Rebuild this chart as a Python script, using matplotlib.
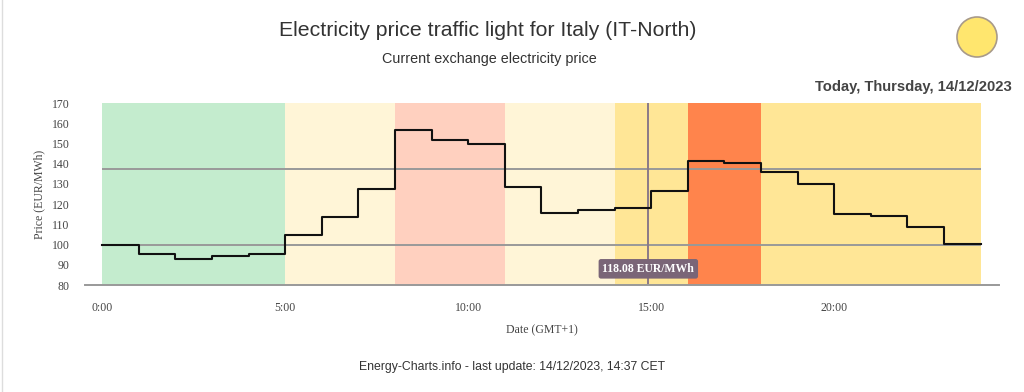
import numpy as np
import matplotlib.pyplot as plt
from matplotlib.patches import Ellipse
from matplotlib.lines import Line2D

# hourly exchange prices (EUR/MWh), hour 0..23
hours = np.arange(0, 24)
prices = [100.0, 95.2, 92.7, 94.2, 95.2, 104.7, 113.6, 127.4, 156.6, 151.7, 149.7, 128.6,
          115.7, 116.9, 118.08, 126.3, 141.3, 140.5, 135.7, 129.9, 114.9, 114.2, 108.8, 100.3]

# traffic light colour bands (start hour, end hour, colour)
band_starts = [0, 5, 8, 11, 14, 16, 18]
band_ends = [5, 8, 11, 14, 16, 18, 24]
band_colors = ['#c4ecce', '#fff5d7', '#ffd0bf', '#fff5d7', '#ffe696', '#ff844c', '#ffe696']

ref_levels = [100.0, 137.6]
cursor_hour = 14.92
cursor_text = '118.08 EUR/MWh'
xtick_pos = [0, 5, 10, 15, 20]
xtick_labels = ['0:00', '5:00', '10:00', '15:00', '20:00']
yticks = np.arange(80, 171, 10)

serif = 'Liberation Serif'
sans = 'Liberation Sans'

fig = plt.figure(figsize=(10.24, 3.92), dpi=100)
ax = fig.add_axes([85 / 1024, 1 - 285 / 392, (999 - 85) / 1024, (285 - 103) / 392])

for s, e, c in zip(band_starts, band_ends, band_colors):
    ax.axvspan(s, e, color=c, lw=0, zorder=0)

for lv in ref_levels:
    ax.hlines(lv, 0, 24, color='#999999', lw=1.4, zorder=2)

ax.axvline(cursor_hour, color='#8a7a88', lw=1.4, zorder=2)

x_step = np.append(hours, 24)
y_step = np.append(prices, prices[-1])
ax.step(x_step, y_step, where='post', color='#111111', lw=1.5, zorder=3)

ax.text(cursor_hour, 88.0, cursor_text, ha='center', va='center', color='white',
        fontsize=8.5, fontweight='bold', family=serif, zorder=5,
        bbox=dict(boxstyle='round,pad=0.32,rounding_size=0.2', fc='#7a6577', ec='none'))

ax.set_xlim(-0.47, 24.5)
ax.set_ylim(80, 170)
ax.set_xticks(xtick_pos)
ax.set_xticklabels(xtick_labels, family=serif, fontsize=8.5, color='#444444')
ax.set_yticks(yticks)
ax.set_yticklabels([str(v) for v in yticks], family=serif, fontsize=8.5, color='#444444')
ax.tick_params(axis='x', length=0, pad=12)
ax.tick_params(axis='y', length=0, pad=11)
for sp in ['top', 'right', 'left']:
    ax.spines[sp].set_visible(False)
ax.spines['bottom'].set_color('#999999')
ax.spines['bottom'].set_linewidth(1.4)
ax.set_xlabel('Date (GMT+1)', family=serif, fontsize=8.5, color='#444444', labelpad=8)
ax.set_ylabel('Price (EUR/MWh)', family=serif, fontsize=8.5, color='#444444', labelpad=5)

fig.text(488 / 1024, 1 - 31 / 392, 'Electricity price traffic light for Italy (IT-North)',
         ha='center', va='center', family=sans, fontsize=15.3, color='#333333')
fig.text(489 / 1024, 1 - 59 / 392, 'Current exchange electricity price',
         ha='center', va='center', family=sans, fontsize=10.4, color='#333333')
fig.text(1012 / 1024, 1 - 87 / 392, 'Today, Thursday, 14/12/2023',
         ha='right', va='center', family=sans, fontsize=10.6, fontweight='bold', color='#444444')
fig.text(512 / 1024, 1 - 367 / 392, 'Energy-Charts.info - last update: 14/12/2023, 14:37 CET',
         ha='center', va='center', family=sans, fontsize=8.8, color='#333333')

# traffic light circle
fig.patches.append(Ellipse((977 / 1024, 1 - 37 / 392), 40 / 1024, 40 / 392,
                           transform=fig.transFigure, fc='#ffe66e', ec='#a89a8a', lw=1.2))
# faint page border on the left
fig.lines.append(Line2D([2 / 1024, 2 / 1024], [0, 1], transform=fig.transFigure,
                        color='#dddddd', lw=1))

fig.savefig('out.png', dpi=100)
